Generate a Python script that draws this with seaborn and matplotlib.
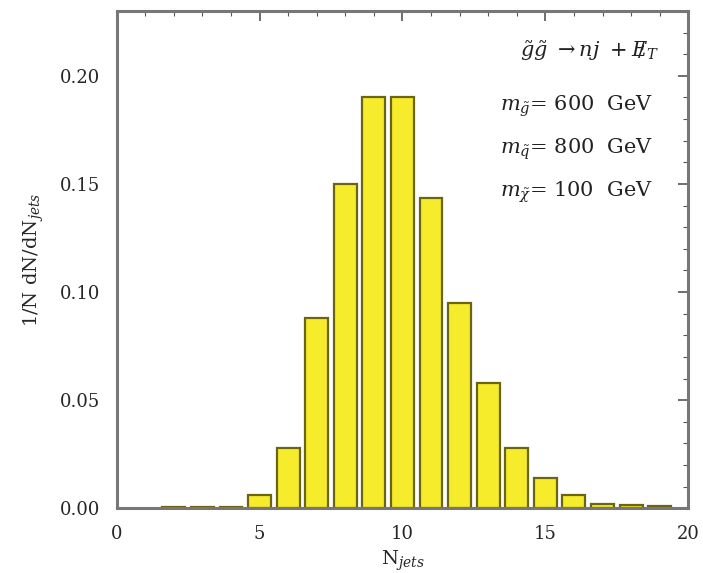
import matplotlib
matplotlib.use("Agg")
import matplotlib.pyplot as plt
import seaborn as sns
import pandas as pd
from matplotlib.ticker import MultipleLocator

n_jets = [2, 3, 4, 5, 6, 7, 8, 9, 10, 11, 12, 13, 14, 15, 16, 17, 18, 19]
fraction = [0.0004, 0.0005, 0.0007, 0.006, 0.028, 0.088, 0.150, 0.190, 0.190,
            0.1435, 0.095, 0.058, 0.028, 0.014, 0.006, 0.002, 0.0015, 0.001]
x_ticks = [0, 5, 10, 15, 20]
y_ticks = [0.00, 0.05, 0.10, 0.15, 0.20]
legend_lines = [r"$\tilde{g}\tilde{g}\ \rightarrow nj\ +\ /\!\!\!\!E_T$",
                r"$m_{\tilde{g}}$= 600  GeV",
                r"$m_{\tilde{q}}$= 800  GeV",
                r"$m_{\tilde{\chi}}$= 100  GeV"]

sns.set_theme(style="white")
plt.rcParams['font.family'] = ['DejaVu Serif']
plt.rcParams['mathtext.fontset'] = 'dejavuserif'

df = pd.DataFrame({"N": n_jets, "frac": fraction})

fig = plt.figure(figsize=(7.03, 5.73), dpi=100)
ax = fig.add_axes([0.166, 0.113, 0.813, 0.868])
sns.barplot(data=df, x="N", y="frac", native_scale=True, ax=ax,
            color="#F6EC2C", edgecolor="#6b6410", linewidth=1.6, width=0.8,
            saturation=1)

ax.set_xlim(0, 20)
ax.set_ylim(0, 0.23)
ax.set_xticks(x_ticks)
ax.set_xticklabels([str(v) for v in x_ticks], fontsize=13)
ax.set_yticks(y_ticks)
ax.set_yticklabels([f"{v:.2f}" for v in y_ticks], fontsize=13)
ax.xaxis.set_minor_locator(MultipleLocator(1))
ax.yaxis.set_minor_locator(MultipleLocator(0.01))
ax.tick_params(which="both", direction="in", top=True, right=True, color="#555555")
ax.tick_params(which="major", length=7, width=1.2)
ax.tick_params(axis="x", which="major", pad=12)
ax.tick_params(axis="y", which="major", pad=12)
ax.tick_params(which="minor", length=3.5, width=0.8)
for s in ax.spines.values():
    s.set_color("#777777")
    s.set_linewidth(2.2)

ax.set_xlabel(r"N$_{jets}$", fontsize=14, labelpad=4)
ax.set_ylabel(r"1/N dN/dN$_{jets}$", fontsize=14, labelpad=10)

ax.text(0.705, 0.92, legend_lines[0], transform=ax.transAxes, ha="left",
        va="center", fontsize=15, color="#222222")
for t, y in zip(legend_lines[1:], [0.808, 0.722, 0.636]):
    ax.text(0.67, y, t, transform=ax.transAxes, ha="left", va="center",
            fontsize=15, color="#222222")

fig.savefig("out.png", dpi=100)
